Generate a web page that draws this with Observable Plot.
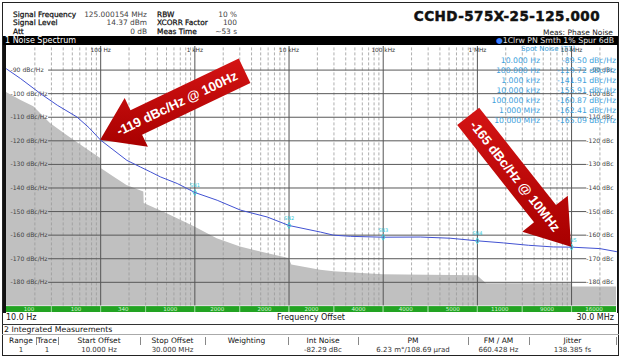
<!DOCTYPE html>
<html><head><meta charset="utf-8">
<script src="https://cdn.jsdelivr.net/npm/d3@7"></script>
<script src="https://cdn.jsdelivr.net/npm/@observablehq/plot@0.6"></script>
<style>
body{margin:0;background:#fff;font-family:"DejaVu Sans",sans-serif;}
#root{position:relative;width:622px;height:359px;overflow:hidden;background:#fff;}
.a{position:absolute;white-space:nowrap;}
</style></head><body><div id="root"></div>
<script>
// ---------- data ----------
const spotFreq  = [10, 100, 1e3, 1e4, 1e5, 1e6, 1e7];
const spotLabel = ["10.000 Hz","100.000 Hz","1.000 kHz","10.000 kHz","100.000 kHz","1.000 MHz","10.000 MHz"];
const spotLevel = [-89.50,-119.72,-141.91,-155.91,-160.87,-162.41,-165.09];
const markerName = ["","","SN1","SN2","SN3","SN4","SN5"];

const traceFreq  = [10,14.1,23,34.6,56,75,100,190,264,339,431,650,1000,1726,3055,5860,10000,21600,29600,45000,100000,247000,513000,1000000,1900000,3500000,6400000,10000000,20000000,30000000];
const traceLevel = [-89.5,-93.6,-100,-104.9,-109.9,-114.4,-119.72,-128.3,-131.1,-133.2,-135.3,-138.1,-141.91,-145.2,-149.4,-152.3,-155.91,-158.7,-160,-160.5,-160.87,-160.8,-161.3,-162.41,-163.3,-164.3,-165,-165.09,-165.7,-167];

const floorFreq  = [10,14.1,19.5,29.3,44,66,100,102,138,190,287,290,508,1000,1726,3055,5860,10000,10700,21600,30000,60000,100000,300000,1000000,1250000,10000000,10100000,30000000];
const floorLevel = [-99.5,-102.8,-105.6,-112.7,-117.7,-122.6,-127.5,-131.8,-135.3,-138.9,-141.7,-146.6,-150.9,-156.5,-161.5,-165,-167.8,-169.9,-172.7,-174.9,-175.5,-176.3,-176.8,-177,-177.2,-180.6,-180.6,-182,-182];

const segEdges = [10,30,100,300,1e3,3e3,1e4,3e4,1e5,3e5,1e6,3e6,1e7,3e7];
const segRbw   = ["100","100","340","1000","2000","2000","2000","4000","4000","5000","11000","9000","16000"];

const yTicks = [-90,-100,-110,-120,-130,-140,-150,-160,-170,-180];
const decades = [100,1e3,1e4,1e5,1e6,1e7];
const decadeLabels = ["100 Hz","1 kHz","10 kHz","100 kHz","1 MHz","10 MHz"];

const annotations = ["-119 dBc/Hz @ 100Hz","-165 dBc/Hz @ 10MHz"];

const infoLeftLabels  = ["Signal Frequency","Signal Level","Att"];
const infoLeftValues  = ["125.000154 MHz","14.37 dBm","0 dB"];
const infoRightLabels = ["RBW","XCORR Factor","Meas Time"];
const infoRightValues = ["10 %","100","~53 s"];
const titleText = "CCHD-575X-25-125.000";

const tableHeads = ["Range","Trace","Start Offset","Stop Offset","Weighting","Int Noise","PM","FM / AM","Jitter"];
const tableVals  = ["1","1","10.000 Hz","30.000 MHz","","-82.29 dBc","6.23 m°/108.69 µrad","660.428 Hz","138.385 fs"];

// ---------- derived tables ----------
const trace = traceFreq.map((f,i)=>({f, v:traceLevel[i]}));
const floor = floorFreq.map((f,i)=>({f, v:floorLevel[i]}));
const spots = spotFreq.map((f,i)=>({f, v:spotLevel[i], name:markerName[i]})).filter(d=>d.name);
const segments = segRbw.map((r,i)=>({x1:segEdges[i], x2:segEdges[i+1], rbw:r}));
const decadeTicks = decades.map((d,i)=>({f:d, label:decadeLabels[i]}));
const minor = [];
for (let d=10; d<3e7; d*=10) for (let k=2;k<=9;k++){ if (k*d<3e7) minor.push(k*d); }

const root = document.getElementById("root");
function div(css, text){ const e=document.createElement("div"); e.className="a"; e.style.cssText=css; if(text!==undefined) e.textContent=text; root.appendChild(e); return e; }

// ---------- plot ----------
const plot = Plot.plot({
  width: 622, height: 268,
  marginLeft: 6, marginRight: 6, marginTop: 1, marginBottom: 1,
  x: {type:"log", domain:[10,3e7], axis:null},
  y: {domain:[-192.8,-80], axis:null},
  style: {background:"transparent", overflow:"visible", fontFamily:"DejaVu Sans"},
  marks: [
    Plot.areaY(floor, {x:"f", y1:-190, y2:"v", fill:"#c0c0c0"}),
    Plot.ruleX(minor, {y1:-190, y2:-80, stroke:"#9a9a9a", strokeWidth:0.8, strokeDasharray:"3,2"}),
    Plot.ruleX(decades, {y1:-190, y2:-80, stroke:"#555", strokeWidth:1}),
    Plot.ruleY(yTicks, {x1:28, x2:1.45e7, stroke:"#585858", strokeWidth:1}),
    Plot.text(yTicks, {x:10, y:d=>d, text:d=>`${d} dBc/Hz`, textAnchor:"start", dx:4, fontSize:6.1, fill:"#444"}),
    Plot.text(yTicks, {x:3e7, y:d=>d, text:d=>`${d} dBc`, textAnchor:"end", dx:-3, fontSize:6.1, fill:"#444"}),
    Plot.text(decadeTicks, {x:"f", y:-80, text:"label", dy:3.5, fontSize:5.8, fill:"#333"}),
    Plot.line(trace, {x:"f", y:"v", stroke:"#4252d2", strokeWidth:1}),
    Plot.dot(spots, {x:"f", y:"v", symbol:"diamond", r:1.8, stroke:"#33c8d8", strokeWidth:0.9}),
    Plot.text(spots, {x:"f", y:"v", text:"name", dy:-7, fontSize:5, fill:"#33c8d8"}),
    Plot.rect(segments, {x1:"x1", x2:"x2", y1:-190.3, y2:-192.8, fill:"#22a322"}),
    Plot.ruleX(segEdges.slice(1,-1), {y1:-190.3, y2:-192.8, stroke:"#c8ecc8", strokeWidth:0.7}),
    Plot.text(segments, {x:d=>Math.sqrt(d.x1*d.x2), y:-191.55, text:"rbw", fontSize:5.5, fill:"#d6f5d6"})
  ]
});
plot.style.position="absolute"; plot.style.left="0px"; plot.style.top="45px";
root.appendChild(plot);

// arrows through plot scales
const sxo = plot.scale("x"), syo = plot.scale("y");
const X = sxo.apply ? v=>sxo.apply(v) : d3.scaleLog(sxo.domain, sxo.range);
const Y = syo.apply ? v=>syo.apply(v) : d3.scaleLinear(syo.domain, syo.range);
const svg = d3.select(plot);
const defs = svg.append("defs");
const g = defs.append("linearGradient").attr("id","redg").attr("x1",0).attr("y1",0).attr("x2",0).attr("y2",1);
g.append("stop").attr("offset","0%").attr("stop-color","#d41414");
g.append("stop").attr("offset","100%").attr("stop-color","#a80000");
function arrow(f, v, angleDeg, len, bw, hl, hw, text, textPos, textRot){
  const tx=X(f), ty=Y(v), a=angleDeg*Math.PI/180, ux=Math.cos(a), uy=Math.sin(a), nx=-uy, ny=ux;
  const P=(s,t)=>[tx+ux*s+nx*t, ty+uy*s+ny*t];
  const pts=[P(0,0),P(hl,hw/2),P(hl,bw/2),P(len,bw/2),P(len,-bw/2),P(hl,-bw/2),P(hl,-hw/2)];
  svg.append("polygon").attr("points", pts.map(p=>p.join(",")).join(" ")).attr("fill","url(#redg)");
  const c=P(textPos,0);
  svg.append("text").attr("transform",`translate(${c[0]},${c[1]}) rotate(${textRot})`)
    .attr("text-anchor","middle").attr("dy","0.36em").attr("fill","#fff")
    .attr("font-family","Liberation Sans, Arial, sans-serif").attr("font-weight","bold").attr("font-size",13.2)
    .text(text);
}
arrow(spotFreq[1], spotLevel[1], -25.5, 160, 27, 40, 54, annotations[0], 85, -25.5);
arrow(spotFreq[6], spotLevel[6], -128.3, 166, 28, 42, 58, annotations[1], 90, 51.7);

// ---------- header ----------
const rowTop=[9.5,18,26.5];
for(let i=0;i<3;i++){
  div(`left:13px;top:${rowTop[i]}px;font-size:7.4px;line-height:9px;color:#111;-webkit-text-stroke:0.25px #111;`, infoLeftLabels[i]);
  div(`left:70px;width:77px;text-align:right;top:${rowTop[i]}px;font-size:7.4px;line-height:9px;color:#444;`, infoLeftValues[i]);
  div(`left:157px;top:${rowTop[i]}px;font-size:7.4px;line-height:9px;color:#111;-webkit-text-stroke:0.25px #111;`, infoRightLabels[i]);
  div(`left:200px;width:37px;text-align:right;top:${rowTop[i]}px;font-size:7.4px;line-height:9px;color:#444;`, infoRightValues[i]);
}
div(`right:22px;top:9px;font-size:13.5px;line-height:15px;font-weight:bold;letter-spacing:0.45px;color:#111;-webkit-text-stroke:0.5px #111;`, titleText);
div(`right:9px;top:27.5px;font-size:7.5px;line-height:9px;color:#222;`, "Meas: Phase Noise");
// black bar
div(`left:3px;top:36px;width:615px;height:9px;background:#000;`);
div(`left:5px;top:36px;font-size:8px;line-height:9px;color:#fff;`, "1 Noise Spectrum");
const rb = div(`right:8px;top:36px;font-size:7.8px;line-height:9px;color:#e4e4e4;`);
rb.innerHTML = '<span style="color:#3a7fff">●</span>1Clrw PN Smth 1% Spur 6dB';

// spot noise table
div(`left:505px;width:86px;text-align:center;top:45px;font-size:7px;line-height:9px;color:#3e9fdc;`, "Spot Noise [T1]");
for(let i=0;i<spotFreq.length;i++){
  const t = 55.5 + i*10.1;
  div(`left:470px;width:70px;text-align:right;top:${t}px;font-size:7.7px;line-height:10px;color:#3e9fdc;`, spotLabel[i]);
  div(`left:540px;width:76px;text-align:right;top:${t}px;font-size:7.7px;line-height:10px;color:#3e9fdc;`, `${spotLevel[i].toFixed(2)} dBc/Hz`);
}

// frame bands
div(`left:2px;top:45px;width:4px;height:268px;background:#111;`);
div(`left:617px;top:45px;width:2px;height:268px;background:#111;`);
div(`left:2px;top:2px;width:617px;height:354px;box-sizing:border-box;border:1px solid #222;`);

// ---------- footer ----------
div(`left:6px;top:313px;font-size:8px;line-height:10px;color:#111;`, "10.0 Hz");
div(`left:211px;width:200px;text-align:center;top:313px;font-size:8px;line-height:10px;color:#111;`, "Frequency Offset");
div(`right:8px;top:313px;font-size:8px;line-height:10px;color:#111;`, "30.0 MHz");
div(`left:2px;top:323.5px;width:617px;height:1.5px;background:#333;`);
div(`left:4px;top:325px;font-size:7.8px;line-height:9px;color:#111;`, "2 Integrated Measurements");
div(`left:2px;top:334px;width:617px;height:1px;background:#aaa;`);
const colEdges=[6,36,58,140,205,288,358,468,529,616];
for(let i=0;i<tableHeads.length;i++){
  const l=colEdges[i], w=colEdges[i+1]-colEdges[i];
  div(`left:${l}px;width:${w}px;text-align:center;top:336px;font-size:7.5px;line-height:9px;color:#111;`, tableHeads[i]);
  div(`left:${l}px;width:${w}px;text-align:center;top:345.5px;font-size:7px;line-height:8.5px;color:#333;`, tableVals[i]);
  div(`left:${colEdges[i+1]}px;top:336.5px;width:1px;height:8px;background:#888;`);
}
</script></body></html>
